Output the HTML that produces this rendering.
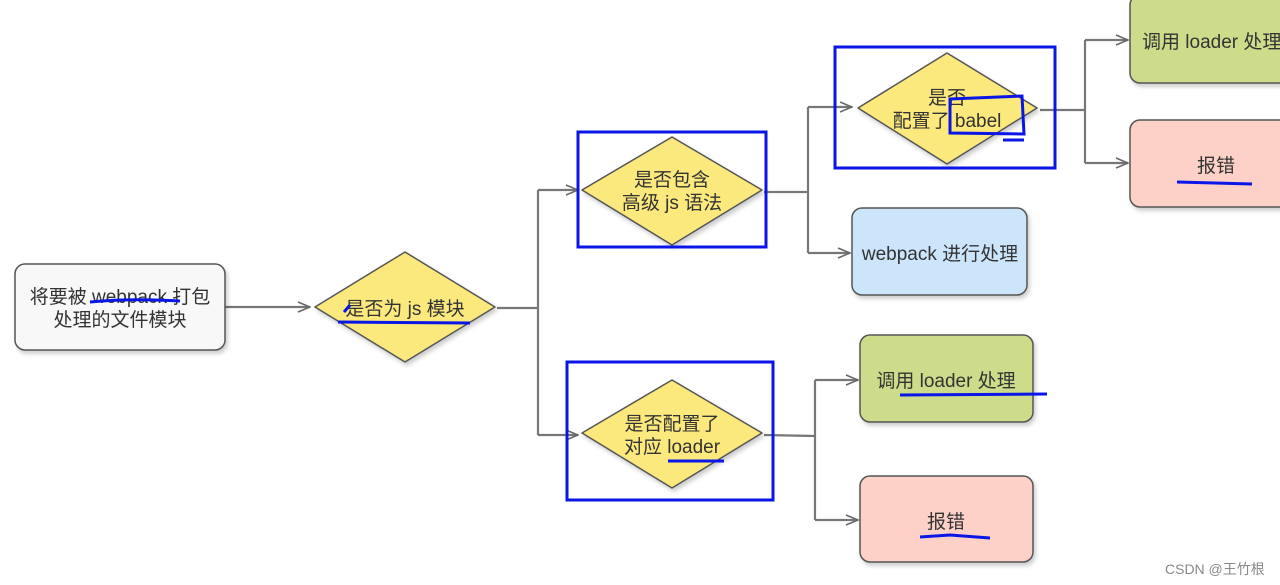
<!DOCTYPE html>
<html><head><meta charset="utf-8"><style>
html,body{margin:0;padding:0;background:#fff;}
svg{display:block;}
text{font-family:"Liberation Sans","Noto Sans CJK SC",sans-serif;font-size:19px;fill:#333;}
</style></head><body>
<svg width="1280" height="585" viewBox="0 0 1280 585">
<defs>
<marker id="a" markerWidth="14" markerHeight="12" refX="13" refY="6" orient="auto" markerUnits="userSpaceOnUse">
<path d="M1,1 L13,6 L1,11" fill="none" stroke="#666" stroke-width="1.5"/></marker>
<filter id="s" x="-10%" y="-10%" width="130%" height="130%"><feDropShadow dx="2" dy="3" stdDeviation="2" flood-color="#000" flood-opacity="0.2"/></filter>
</defs>
<g fill="none" stroke="#777" stroke-width="2.2">
<path d="M225,307 L310,307" marker-end="url(#a)"/>
<path d="M497,308 L538,308"/>
<path d="M538,190 L538,435"/>
<path d="M538,190 L578,190" marker-end="url(#a)"/>
<path d="M538,435 L578,435" marker-end="url(#a)"/>
<path d="M764,192 L808,192"/>
<path d="M808,107 L808,253"/>
<path d="M808,107 L852,107" marker-end="url(#a)"/>
<path d="M808,253 L850,253" marker-end="url(#a)"/>
<path d="M1040,110 L1085,110"/>
<path d="M1085,40 L1085,163"/>
<path d="M1085,40 L1128,40" marker-end="url(#a)"/>
<path d="M1085,163 L1128,163" marker-end="url(#a)"/>
<path d="M764,435 L815,436"/>
<path d="M815,380 L815,520"/>
<path d="M815,380 L858,380" marker-end="url(#a)"/>
<path d="M815,520 L858,520" marker-end="url(#a)"/>
</g>
<g stroke="#555" stroke-width="1.5" filter="url(#s)">
<rect x="15" y="264" width="210" height="86" rx="10" fill="#f8f8f8"/>
<path d="M315,307 L405,252 L495,307 L405,362 Z" fill="#fbe97e" stroke-linejoin="round"/>
<path d="M582,190 L672,137 L762,190 L672,245 Z" fill="#fbe97e" stroke-linejoin="round"/>
<path d="M582,433 L672,380 L762,433 L672,488 Z" fill="#fbe97e" stroke-linejoin="round"/>
<path d="M858,108 L947,53 L1037,108 L947,164 Z" fill="#fbe97e" stroke-linejoin="round"/>
<rect x="852" y="208" width="175" height="87" rx="10" fill="#cce5fb"/>
<rect x="1130" y="-5" width="160" height="88" rx="10" fill="#cddc8a"/>
<rect x="1130" y="120" width="160" height="87" rx="10" fill="#fdd0c8"/>
<rect x="860" y="335" width="173" height="87" rx="10" fill="#cddc8a"/>
<rect x="860" y="476" width="173" height="86" rx="10" fill="#fdd0c8"/>
</g>
<g text-anchor="middle">
<text x="120" y="303">将要被 webpack 打包</text>
<text x="120" y="326">处理的文件模块</text>
<text x="405" y="315">是否为 js 模块</text>
<text x="672" y="186">是否包含</text>
<text x="672" y="209">高级 js 语法</text>
<text x="947" y="104">是否</text>
<text x="947" y="127">配置了 babel</text>
<text x="672" y="430">是否配置了</text>
<text x="672" y="453">对应 loader</text>
<text x="940" y="260">webpack 进行处理</text>
<text x="946" y="387">调用 loader 处理</text>
<text x="946" y="528">报错</text>
<text x="1216" y="172">报错</text>
</g>
<text x="1142" y="48">调用 loader 处理</text>
<g fill="none" stroke="#0a16e6" stroke-width="3">
<rect x="578" y="132" width="188" height="115"/>
<rect x="567" y="362" width="206" height="138"/>
<rect x="835" y="47" width="220" height="121"/>
<path d="M90,302 Q130,298 180,301"/>
<path d="M338,322 L470,323"/>
<path d="M344,312 L350,305"/>
<path d="M668,461 L724,461"/>
<path d="M900,395 L1047,394"/>
<path d="M920,537 L950,535 L990,538"/>
<path d="M1177,182 L1252,184"/>
<path d="M950,99 L1022,96 L1024,134 L950,133 Z"/>
<path d="M1003,140 L1024,140"/>
</g>
<text x="1165" y="574" style="font-size:14px;fill:#888">CSDN @王竹根</text>
</svg>
</body></html>
